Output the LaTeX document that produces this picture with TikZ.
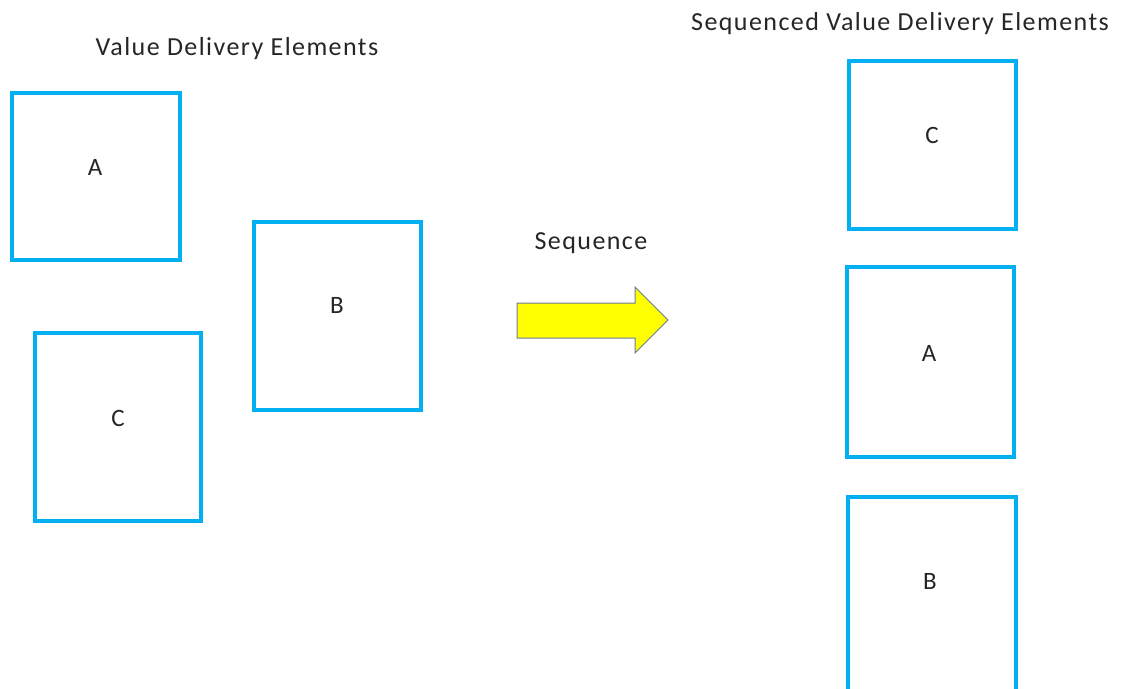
\documentclass[tikz,border=0pt]{standalone}
\usepackage{fontspec}
\setmainfont{Carlito}
\newfontfamily\labelfont[LetterSpace=5.5]{Carlito}
\begin{document}
\begin{tikzpicture}[x=1pt,y=-1pt,
  element/.style={draw=elemblue,line width=4.5pt,fill=white,inner sep=0pt},
  caption/.style={font=\labelfont\fontsize{26}{30}\selectfont,text=black!85,inner sep=0pt},
  letter/.style={font=\labelfont\fontsize{25}{28}\selectfont,text=black!85,inner sep=0pt}]
\definecolor{elemblue}{HTML}{00B0F0}
\definecolor{arrowfill}{HTML}{FFFF00}
\definecolor{arrowline}{HTML}{6A7B9C}
\fill[white] (0,0) rectangle (1123,688);
\useasboundingbox (0,0) rectangle (1123,688);
\clip (0,0) rectangle (1123,688);

% unordered elements
\node[element,minimum width=168pt,minimum height=167pt] (ua) at (96,176.5) {};
\node[element,minimum width=167pt,minimum height=188pt] (ub) at (337.5,316) {};
\node[element,minimum width=166pt,minimum height=188pt] (uc) at (118,427) {};
\node[letter] (la) at (95,167) {A};
\node[letter] (lb) at (337,305) {B};
\node[letter] (lc) at (118,418) {C};
\node[caption] (t1) at (237,49) {Value Delivery Elements};

% sequencing arrow
\filldraw[fill=arrowfill,draw=arrowline,line width=1pt,line join=miter]
  (517,303) -- (635,303) -- (635,287) -- (668,320) -- (635,353) -- (635,338) -- (517,338) -- cycle;
\node[caption] (t2) at (591,243) {Sequence};

% sequenced elements (the last one runs past the lower edge)
\node[element,minimum width=167pt,minimum height=168pt] (sc) at (932.5,145) {};
\node[element,minimum width=167pt,minimum height=190pt] (sa) at (930.5,362) {};
\node[element,minimum width=168pt,minimum height=210pt] (sb) at (932,602) {};
\node[letter] (lsc) at (932,135) {C};
\node[letter] (lsa) at (929,353) {A};
\node[letter] (lsb) at (930,581) {B};
\node[caption] (t3) at (900,24) {Sequenced Value Delivery Elements};
\end{tikzpicture}
\end{document}
